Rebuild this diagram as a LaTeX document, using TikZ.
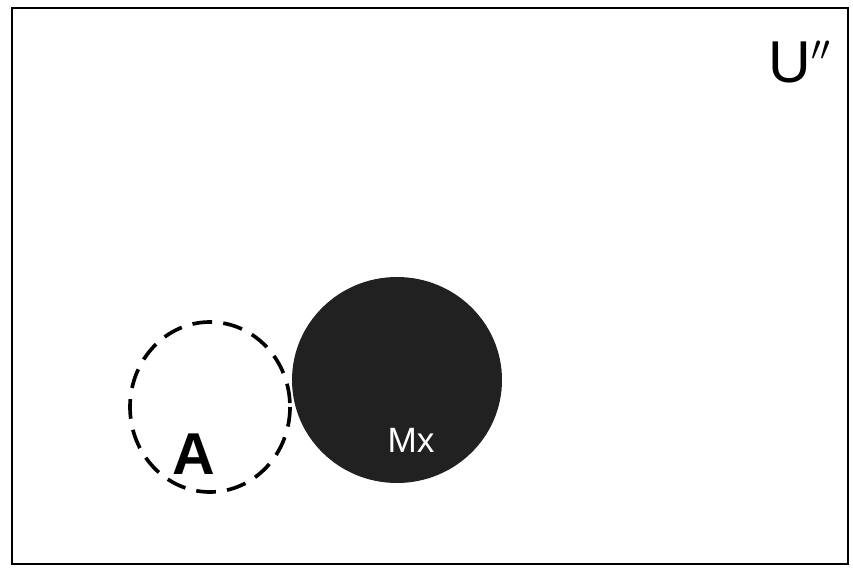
\documentclass[tikz,border=0pt]{standalone}
\usepackage{fontspec}
\setmainfont{Liberation Sans}
\usepackage{tikz}

\begin{document}
\begin{tikzpicture}[
   x=0.025cm,y=-0.025cm,
   frame/.style={draw,line width=1.8pt},
   setline/.style={draw,line width=2.6pt,dash pattern=on 14pt off 8pt},
   setfill/.style={fill=black!87},
   label/.style={inner sep=0pt,font=\fontsize{42}{42}\selectfont}
]
   \useasboundingbox (0,0) rectangle (853,571);
   \draw[frame] (12,8) rectangle (848,564);

   \path[setline] (210,407) ellipse [x radius=80,y radius=85];
   \path[setfill] (397,380) ellipse [x radius=105,y radius=103];

   \node[label] (universe) at (800,62) {U\raisebox{6pt}{\fontsize{34}{34}\selectfont$''$}};
   \node[label,font=\bfseries\fontsize{42}{42}\selectfont] (seta) at (194,454) {A};
   \node[label,text=white,font=\fontsize{25}{25}\selectfont] (setmx) at (411,440) {Mx};
\end{tikzpicture}
\end{document}
